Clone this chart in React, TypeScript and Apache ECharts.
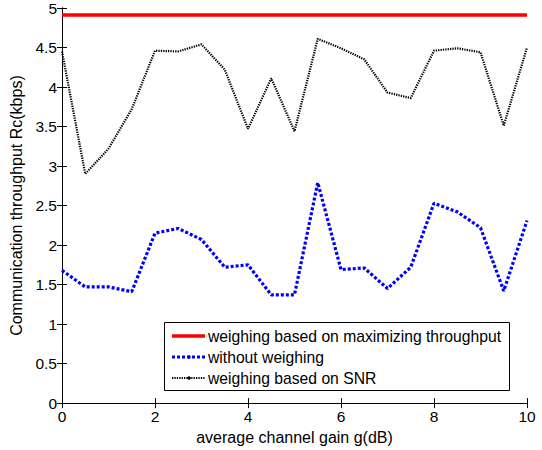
import React, { useEffect, useRef } from "react";
import * as echarts from "echarts";

// Average channel gain g (dB)
const gains = [0, 0.5, 1, 1.5, 2, 2.5, 3, 3.5, 4, 4.5, 5, 5.5, 6, 6.5, 7, 7.5, 8, 8.5, 9, 9.5, 10];

// Communication throughput Rc (kbps)
const maxThroughput = [4.91, 4.91, 4.91, 4.91, 4.91, 4.91, 4.91, 4.91, 4.91, 4.91, 4.91, 4.91, 4.91, 4.91, 4.91, 4.91, 4.91, 4.91, 4.91, 4.91, 4.91];
const noWeighing = [1.68, 1.47, 1.47, 1.41, 2.15, 2.21, 2.07, 1.72, 1.75, 1.37, 1.37, 2.79, 1.69, 1.71, 1.45, 1.72, 2.53, 2.42, 2.22, 1.42, 2.31];
const snrWeighing = [4.45, 2.9, 3.22, 3.72, 4.46, 4.45, 4.54, 4.22, 3.47, 4.11, 3.44, 4.61, 4.49, 4.35, 3.93, 3.86, 4.46, 4.49, 4.44, 3.51, 4.5];

const seriesNames = [
  "weighing based on maximizing throughput",
  "without weighing",
  "weighing based on SNR",
];

const FONT = "Liberation Sans, Arial, sans-serif";
const FS = 15.5;

// line styles shared by the series and the legend samples
const styles = [
  { color: "#ff0000", width: 3.5, dash: null as number[] | null, dot: false },
  { color: "#0000ff", width: 3.2, dash: [3, 2], dot: true },
  { color: "#000000", width: 2.2, dash: [1.3, 1.1], dot: true },
];

const pairs = (ys: number[]) => gains.map((g, i) => [g, ys[i]]);

// MATLAB-style boxed legend in the lower part of the axes
function legendGraphic() {
  const box = { x: 164, y: 322, w: 345, h: 68 };
  const rows = [336, 357, 378];
  const children: any[] = [
    {
      type: "rect",
      shape: { x: box.x + 0.5, y: box.y + 0.5, width: box.w, height: box.h },
      style: { fill: "#fff", stroke: "#000", lineWidth: 1 },
    },
  ];
  seriesNames.forEach((name, i) => {
    const s = styles[i];
    const y = rows[i];
    children.push({
      type: "line",
      shape: { x1: 172, y1: y, x2: 205, y2: y },
      style: { stroke: s.color, lineWidth: s.width, lineDash: s.dash || undefined },
    });
    if (s.dot) {
      children.push({
        type: "circle",
        shape: { cx: 189, cy: y, r: 1.8 },
        style: { fill: s.color },
      });
    }
    children.push({
      type: "text",
      x: 208,
      y,
      style: {
        text: name,
        fontFamily: FONT,
        fontSize: 15.7,
        fill: "#000",
        textVerticalAlign: "middle",
        verticalAlign: "middle",
      },
    });
  });
  return [{ type: "group", z: 100, children }];
}

export default function App() {
  const ref = useRef<HTMLDivElement>(null);

  useEffect(() => {
    const chart = echarts.init(ref.current!, null, { renderer: "svg" });
    const axisLine = { show: true, lineStyle: { color: "#000", width: 1 } };
    const tick = { show: true, inside: true, length: 5, lineStyle: { color: "#000" } };
    const label = { fontFamily: FONT, fontSize: FS, color: "#000", margin: 5 };
    const nameStyle = { fontFamily: FONT, fontSize: 16, color: "#000" };
    chart.setOption({
      animation: false,
      backgroundColor: "#fff",
      grid: { left: 62, right: 15, top: 6, bottom: 43, containLabel: false },
      graphic: legendGraphic(),
      xAxis: [
        {
          type: "value",
          min: 0,
          max: 10,
          interval: 2,
          name: "average channel gain g(dB)",
          nameLocation: "middle",
          nameGap: 23,
          nameTextStyle: nameStyle,
          axisLine,
          axisTick: tick,
          axisLabel: label,
          splitLine: { show: false },
        },
        {
          type: "value",
          position: "top",
          min: 0,
          max: 10,
          interval: 2,
          axisLine,
          axisTick: tick,
          axisLabel: { show: false },
          splitLine: { show: false },
        },
      ],
      yAxis: [
        {
          type: "value",
          min: 0,
          max: 5,
          interval: 0.5,
          name: "Communication throughput Rc(kbps)",
          nameLocation: "middle",
          nameGap: 35,
          nameTextStyle: nameStyle,
          axisLine,
          axisTick: tick,
          axisLabel: label,
          splitLine: { show: false },
        },
        {
          type: "value",
          position: "right",
          min: 0,
          max: 5,
          interval: 0.5,
          axisLine,
          axisTick: tick,
          axisLabel: { show: false },
          splitLine: { show: false },
        },
      ],
      series: [maxThroughput, noWeighing, snrWeighing].map((ys, i) => ({
        name: seriesNames[i],
        type: "line",
        data: pairs(ys),
        symbol: "none",
        lineStyle: { color: styles[i].color, width: styles[i].width, type: styles[i].dash || "solid" },
        itemStyle: { color: styles[i].color },
        z: 3 - i,
      })),
    });
    return () => chart.dispose();
  }, []);

  return <div ref={ref} style={{ width: 542, height: 450, position: "absolute", left: 0, top: 0 }} />;
}
